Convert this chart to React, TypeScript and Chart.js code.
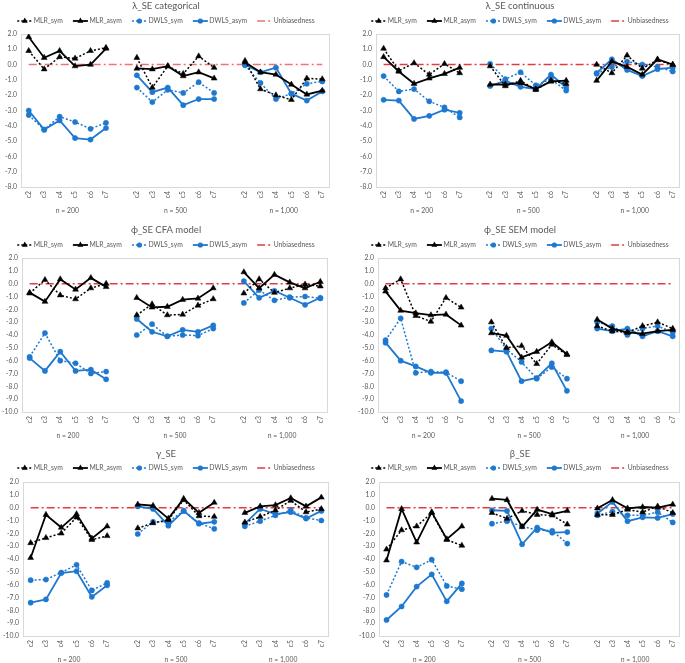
import React, { useEffect, useRef } from 'react';
import { Chart, registerables } from 'chart.js';

Chart.register(...registerables);

// ---------------- data ----------------
const categories = ['c2', 'c3', 'c4', 'c5', 'c6', 'c7'];
const groups = ['n = 200', 'n = 500', 'n = 1,000'];
const seriesNames = ['MLR_sym', 'MLR_asym', 'DWLS_sym', 'DWLS_asym', 'Unbiasedness'];
const yRangeLambda = [-8, 2];
const yRangeOther = [-10, 2];
const yStep = 1;

// λ_SE categorical
const lamCatMLRsym = [0.9, -0.3, 0.5, 0.4, 0.9, 1.1, 0.45, -1.5, -0.1, -0.6, 0.55, -0.2, 0.25, -1.6, -2.0, -2.3, -0.9, -0.95];
const lamCatMLRasym = [1.8, 0.45, 0.9, -0.1, 0.0, 1.05, -0.25, -0.3, -0.1, -0.75, -0.5, -0.9, 0.15, -0.5, -0.65, -1.3, -1.95, -1.7];
const lamCatDWLSsym = [-3.3, -4.25, -3.4, -3.75, -4.2, -3.8, -1.5, -2.45, -1.65, -1.85, -1.15, -1.85, -0.05, -1.2, -2.25, -1.9, -1.25, -1.1];
const lamCatDWLSasym = [-3.0, -4.25, -3.65, -4.8, -4.9, -4.15, -0.7, -1.8, -1.5, -2.65, -2.25, -2.25, 0.0, -0.5, -0.2, -1.9, -2.35, -1.75];

// λ_SE continuous
const lamConMLRsym = [1.05, -0.4, 0.1, -0.65, 0.05, -0.55, -0.1, -1.4, -1.05, -1.65, -1.05, -1.25, 0.0, -0.55, 0.6, -0.25, 0.3, 0.0];
const lamConMLRasym = [0.5, -0.45, -1.25, -0.9, -0.6, -0.2, -1.3, -1.3, -1.2, -1.6, -1.1, -1.05, -1.05, 0.2, -0.15, -0.65, 0.35, 0.0];
const lamConDWLSsym = [-0.75, -1.75, -1.6, -2.4, -2.8, -3.45, 0.05, -0.95, -0.5, -1.35, -0.95, -1.7, -0.6, -0.15, 0.2, 0.0, -0.15, -0.45];
const lamConDWLSasym = [-2.3, -2.35, -3.55, -3.35, -2.95, -3.15, -1.4, -1.05, -1.45, -1.6, -0.65, -1.5, -0.55, 0.35, -0.35, -0.75, -0.3, -0.2];

// ϕ_SE CFA model
const phiCfaMLRsym = [-0.75, 0.3, -0.9, -1.2, -0.35, 0.0, -2.45, -1.6, -2.45, -2.4, -1.7, -1.2, -0.75, 0.35, -0.7, -0.35, -0.05, -0.2];
const phiCfaMLRasym = [-0.7, -1.4, 0.35, -0.45, 0.45, -0.25, -1.1, -1.85, -1.8, -1.25, -1.15, -0.35, 0.9, -0.35, 0.7, 0.1, -0.35, 0.15];
const phiCfaDWLSsym = [-5.7, -3.85, -6.0, -6.2, -7.0, -6.85, -4.0, -3.15, -4.1, -4.0, -4.05, -3.5, -1.5, -0.5, -1.3, -1.05, -1.0, -1.15];
const phiCfaDWLSasym = [-5.8, -6.8, -5.3, -6.8, -6.7, -7.45, -2.75, -3.75, -4.1, -3.6, -3.75, -3.25, 0.2, -1.1, -0.55, -1.1, -1.65, -1.1];

// ϕ_SE SEM model
const phiSemMLRsym = [-0.35, 0.35, -2.5, -2.95, -1.1, -1.85, -3.0, -5.0, -4.85, -6.25, -4.75, -5.55, -3.3, -3.7, -3.8, -3.3, -3.0, -3.5];
const phiSemMLRasym = [-0.6, -2.1, -2.3, -2.45, -2.4, -3.25, -3.85, -4.05, -5.75, -5.3, -4.55, -5.5, -2.8, -3.5, -3.8, -3.9, -3.7, -3.6];
const phiSemDWLSsym = [-4.4, -2.7, -6.95, -6.85, -6.9, -7.6, -3.5, -5.1, -6.1, -7.4, -6.5, -7.4, -3.0, -3.3, -4.0, -3.5, -3.3, -3.8];
const phiSemDWLSasym = [-4.6, -6.0, -6.45, -6.95, -6.95, -9.15, -5.2, -5.3, -7.6, -7.35, -6.2, -8.35, -3.5, -3.7, -3.5, -4.1, -3.7, -4.1];

// γ_SE
const gamMLRsym = [-2.75, -2.35, -2.0, -0.75, -2.5, -2.2, -1.6, -1.2, -0.95, 0.6, -0.65, -0.7, -1.15, -0.7, -0.2, 0.55, -0.35, -0.1];
const gamMLRasym = [-3.9, -0.55, -1.55, -0.5, -2.4, -1.45, 0.25, 0.15, -0.85, 0.7, -0.4, 0.4, -0.4, 0.1, 0.2, 0.75, 0.1, 0.8];
const gamDWLSsym = [-5.65, -5.6, -5.05, -4.45, -6.45, -5.85, -2.05, -1.1, -1.1, -0.25, -1.2, -1.65, -1.45, -1.05, -0.6, -0.2, -0.8, -1.0];
const gamDWLSasym = [-7.4, -7.15, -5.1, -4.95, -6.95, -6.05, 0.1, -0.1, -1.4, -0.25, -1.25, -1.1, -1.25, -0.1, -0.5, -0.35, -0.85, -0.25];

// β_SE
const betMLRsym = [-3.25, -1.75, -1.45, -0.4, -2.5, -2.95, -0.4, -0.85, -0.25, -0.55, -0.6, -1.3, -0.55, -0.55, -0.15, -0.35, 0.1, -0.4];
const betMLRasym = [-4.1, -0.1, -2.7, -0.35, -2.45, -1.45, 0.7, 0.6, -1.5, -0.15, -0.5, -0.25, -0.05, 0.6, -0.05, 0.05, 0.0, 0.25];
const betDWLSsym = [-6.8, -4.2, -4.65, -4.05, -6.1, -6.35, -1.25, -1.05, -1.45, -1.75, -1.8, -2.8, -0.6, -0.3, -0.6, -0.6, -0.35, -1.15];
const betDWLSasym = [-8.75, -7.7, -6.15, -5.2, -7.3, -5.9, -0.2, -0.25, -2.85, -1.55, -1.95, -1.9, -0.45, 0.45, -1.05, -0.75, -0.8, -0.5];

const unbiasedValue = 0;

// ---------------- styling / layout ----------------
const FONT = 'Lato, "DejaVu Sans", sans-serif';
const TEXT = '#595959';
const BLACK = '#000000';
const BLUE = '#1f78cf';
const TICK_SIZE = 6.8;
const LEGEND_SIZE = 6.8;
const TITLE_SIZE = 9.5;

type Panel = {
  title: string;
  series: number[][];
  yRange: number[];
  left: number; top: number; width: number; height: number;
  area: { l: number; r: number; t: number; b: number };
  titleY: number; legendY: number; centerX: number;
  red: string;
};

const panels: Panel[] = [
  { title: 'λ_SE categorical', series: [lamCatMLRsym, lamCatMLRasym, lamCatDWLSsym, lamCatDWLSasym], yRange: yRangeLambda,
    left: 0, top: 0, width: 342, height: 222, area: { l: 21, r: 330, t: 34, b: 187 }, titleY: 6, legendY: 21, centerX: 166, red: '#ea7474' },
  { title: 'λ_SE continuous', series: [lamConMLRsym, lamConMLRasym, lamConDWLSsym, lamConDWLSasym], yRange: yRangeLambda,
    left: 343, top: 0, width: 342, height: 222, area: { l: 33, r: 339, t: 34, b: 187 }, titleY: 6, legendY: 21, centerX: 177, red: '#e23c3c' },
  { title: 'ϕ_SE CFA model', series: [phiCfaMLRsym, phiCfaMLRasym, phiCfaDWLSsym, phiCfaDWLSasym], yRange: yRangeOther,
    left: 0, top: 222, width: 342, height: 222, area: { l: 22, r: 328, t: 36, b: 190 }, titleY: 8, legendY: 23, centerX: 166, red: '#e23c3c' },
  { title: 'ϕ_SE SEM model', series: [phiSemMLRsym, phiSemMLRasym, phiSemDWLSsym, phiSemDWLSasym], yRange: yRangeOther,
    left: 343, top: 222, width: 342, height: 222, area: { l: 35, r: 339, t: 36, b: 190 }, titleY: 8, legendY: 23, centerX: 177, red: '#e23c3c' },
  { title: 'γ_SE', series: [gamMLRsym, gamMLRasym, gamDWLSsym, gamDWLSasym], yRange: yRangeOther,
    left: 0, top: 444, width: 342, height: 219, area: { l: 23, r: 329, t: 38, b: 192 }, titleY: 10, legendY: 24, centerX: 166, red: '#e23c3c' },
  { title: 'β_SE', series: [betMLRsym, betMLRasym, betDWLSsym, betDWLSasym], yRange: yRangeOther,
    left: 343, top: 444, width: 342, height: 219, area: { l: 36, r: 339, t: 38, b: 192 }, titleY: 10, legendY: 24, centerX: 177, red: '#e23c3c' },
];

// labels with one empty slot between groups
const xLabels: string[] = [];
groups.forEach((g, gi) => {
  if (gi > 0) xLabels.push('');
  xLabels.push(...categories);
});

const withGaps = (vals: number[]) => {
  const out: (number | null)[] = [];
  vals.forEach((v, i) => {
    if (i > 0 && i % categories.length === 0) out.push(null);
    out.push(v);
  });
  return out;
};

function drawMarker(ctx: CanvasRenderingContext2D, style: string, x: number, y: number, r: number, color: string) {
  ctx.save();
  ctx.fillStyle = color;
  ctx.strokeStyle = color;
  ctx.setLineDash([]);
  ctx.beginPath();
  if (style === 'triangle') {
    const s = Math.sin(Math.PI / 3) * r;
    ctx.moveTo(x, y - r);
    ctx.lineTo(x + s, y + r / 2);
    ctx.lineTo(x - s, y + r / 2);
    ctx.closePath();
  } else {
    ctx.arc(x, y, r, 0, Math.PI * 2);
  }
  ctx.fill();
  ctx.restore();
}

function makeConfig(p: Panel): any {
  const styles = [
    { color: BLACK, dash: [2, 2], width: 1.5, point: 'triangle', radius: 3.4 },
    { color: BLACK, dash: [], width: 1.8, point: 'triangle', radius: 3.4 },
    { color: BLUE, dash: [2, 2], width: 1.5, point: 'circle', radius: 2.6 },
    { color: BLUE, dash: [], width: 1.8, point: 'circle', radius: 2.6 },
  ];
  const datasets: any[] = p.series.map((vals, i) => ({
    label: seriesNames[i],
    data: withGaps(vals),
    borderColor: styles[i].color,
    backgroundColor: styles[i].color,
    borderDash: styles[i].dash,
    borderWidth: styles[i].width,
    pointStyle: styles[i].point,
    pointRadius: styles[i].radius,
    pointBorderWidth: 0.5,
    pointBackgroundColor: styles[i].color,
    pointBorderColor: styles[i].color,
    tension: 0,
    spanGaps: false,
    xAxisID: 'x',
    yAxisID: 'y',
  }));
  datasets.push({
    label: seriesNames[4],
    data: xLabels.map(() => unbiasedValue),
    borderColor: p.red,
    backgroundColor: p.red,
    borderDash: [8, 3, 2, 3],
    borderWidth: 1.5,
    pointRadius: 0,
    tension: 0,
    xAxisID: 'x',
    yAxisID: 'y',
  });

  const xH = 17;
  const x2H = 16;
  const yW = p.area.l;

  const deco = {
    id: 'deco',
    beforeDatasetsDraw(chart: any) {
      const { ctx, chartArea: a } = chart;
      ctx.save();
      ctx.strokeStyle = '#d9d9d9';
      ctx.lineWidth = 1;
      ctx.strokeRect(Math.round(a.left) + 0.5, Math.round(a.top) + 0.5, Math.round(a.right - a.left) - 1, Math.round(a.bottom - a.top));
      ctx.restore();
    },
    afterDraw(chart: any) {
      const { ctx } = chart;
      ctx.save();
      // title
      ctx.font = `${TITLE_SIZE}px ${FONT}`;
      ctx.fillStyle = TEXT;
      ctx.textAlign = 'center';
      ctx.textBaseline = 'middle';
      ctx.fillText(p.title, p.centerX, p.titleY);
      // legend
      const keyLen = 15;
      const keyGap = 1.5;
      const itemGap = 10;
      ctx.font = `${LEGEND_SIZE}px ${FONT}`;
      const dss = chart.data.datasets;
      const widths = dss.map((ds: any) => keyLen + keyGap + ctx.measureText(ds.label).width);
      const total = widths.reduce((s: number, w: number) => s + w, 0) + itemGap * (dss.length - 1);
      let x = p.centerX - total / 2;
      const y = p.legendY;
      dss.forEach((ds: any, i: number) => {
        ctx.save();
        ctx.strokeStyle = ds.borderColor;
        ctx.lineWidth = ds.borderWidth;
        ctx.setLineDash(ds.borderDash || []);
        ctx.beginPath();
        ctx.moveTo(x, y);
        ctx.lineTo(x + keyLen, y);
        ctx.stroke();
        ctx.restore();
        if (ds.pointRadius > 0) drawMarker(ctx, ds.pointStyle, x + keyLen / 2, y, ds.pointRadius, ds.borderColor);
        ctx.fillStyle = TEXT;
        ctx.textAlign = 'left';
        ctx.textBaseline = 'middle';
        ctx.fillText(ds.label, x + keyLen + keyGap, y);
        x += widths[i] + itemGap;
      });
      ctx.restore();
    },
  };

  return {
    type: 'line',
    data: { labels: xLabels, datasets },
    plugins: [deco],
    options: {
      responsive: false,
      animation: false,
      devicePixelRatio: 1,
      layout: {
        padding: {
          left: 0,
          right: p.width - p.area.r,
          top: p.area.t,
          bottom: p.height - p.area.b - xH - x2H,
        },
      },
      plugins: {
        legend: { display: false },
        title: { display: false },
        tooltip: { enabled: false },
      },
      scales: {
        x: {
          type: 'category',
          position: 'bottom',
          weight: 0,
          offset: true,
          grid: { display: false, drawTicks: false },
          border: { display: false },
          ticks: {
            autoSkip: false,
            minRotation: 90,
            maxRotation: 90,
            padding: 4,
            color: TEXT,
            font: { family: FONT, size: TICK_SIZE },
          },
          afterFit: (s: any) => { s.height = xH; },
        },
        x2: {
          type: 'linear',
          position: 'bottom',
          weight: 1,
          min: -0.5,
          max: xLabels.length - 0.5,
          grid: { display: false, drawTicks: false },
          border: { display: false },
          afterBuildTicks: (s: any) => {
            s.ticks = groups.map((_, gi) => ({ value: gi * (categories.length + 1) + (categories.length - 1) / 2 }));
          },
          ticks: {
            autoSkip: false,
            minRotation: 0,
            maxRotation: 0,
            padding: 3,
            color: TEXT,
            font: { family: FONT, size: TICK_SIZE },
            callback: (v: number) => groups[Math.round((v - (categories.length - 1) / 2) / (categories.length + 1))] ?? '',
          },
          afterFit: (s: any) => { s.height = x2H; },
        },
        y: {
          type: 'linear',
          min: p.yRange[0],
          max: p.yRange[1],
          grid: { display: false, drawTicks: false },
          border: { display: false },
          ticks: {
            stepSize: yStep,
            padding: 4,
            color: TEXT,
            font: { family: FONT, size: TICK_SIZE },
            callback: (v: number) => Number(v).toFixed(1),
          },
          afterFit: (s: any) => { s.width = yW; },
        },
      },
    },
  };
}

function PanelChart({ p }: { p: Panel }) {
  const ref = useRef<HTMLCanvasElement | null>(null);
  useEffect(() => {
    if (!ref.current) return;
    const chart = new Chart(ref.current, makeConfig(p));
    return () => chart.destroy();
  }, [p]);
  return (
    <canvas
      ref={ref}
      width={p.width}
      height={p.height}
      style={{ position: 'absolute', left: p.left, top: p.top, width: p.width, height: p.height }}
    />
  );
}

export default function App() {
  return (
    <div style={{ position: 'absolute', left: 0, top: 0, width: 685, height: 663, background: '#ffffff', overflow: 'hidden' }}>
      {panels.map((p, i) => <PanelChart key={i} p={p} />)}
    </div>
  );
}
